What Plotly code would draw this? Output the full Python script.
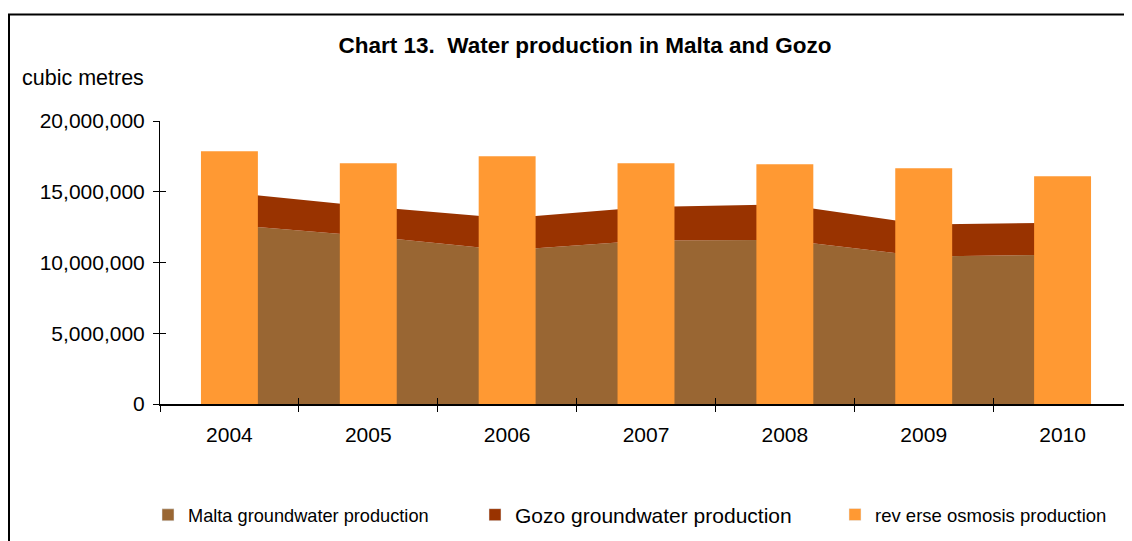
import plotly.graph_objects as go

years = ["2004", "2005", "2006", "2007", "2008", "2009", "2010"]
malta_gw = [12670000, 11850000, 10870000, 11560000, 11590000, 10430000, 10550000]
gozo_gw = [2270000, 2100000, 2250000, 2360000, 2510000, 2260000, 2260000]
reverse_osmosis = [17860000, 17020000, 17510000, 17020000, 16950000, 16660000, 16100000]

C_MALTA = "#996633"
C_GOZO = "#993300"
C_RO = "#FF9933"
FONT = "Liberation Sans, Arial, sans-serif"

fig = go.Figure()

# stacked areas (underneath)
fig.add_trace(go.Scatter(x=years, y=malta_gw, stackgroup="gw", mode="none",
                         fillcolor=C_MALTA, showlegend=False, xaxis="x", yaxis="y"))
fig.add_trace(go.Scatter(x=years, y=gozo_gw, stackgroup="gw", mode="none",
                         fillcolor=C_GOZO, showlegend=False, xaxis="x", yaxis="y"))

# bars on overlay axes so they sit above the areas
fig.add_trace(go.Bar(x=years, y=reverse_osmosis, width=0.41, marker=dict(color=C_RO, line=dict(width=0)),
                     showlegend=False, xaxis="x2", yaxis="y2"))

# legend entries
fig.add_trace(go.Bar(x=[None], y=[None], name="Malta groundwater production",
                     marker=dict(color=C_MALTA), legend="legend", xaxis="x2", yaxis="y2"))
fig.add_trace(go.Bar(x=[None], y=[None], name="Gozo groundwater production",
                     marker=dict(color=C_GOZO), legend="legend2", xaxis="x2", yaxis="y2"))
fig.add_trace(go.Bar(x=[None], y=[None], name="rev erse osmosis production",
                     marker=dict(color=C_RO), legend="legend3", xaxis="x2", yaxis="y2"))

OFF = 8  # page body margin
W, H = 1132 - OFF, 541 - OFF
L, T, B = 160 - OFF, 121 - OFF, 404 - OFF
PW, PH = W - L, B - T

def px_x(p):
    return (p - OFF - L) / PW

def px_y(p):
    return (B - (p - OFF)) / PH

xcommon = dict(type="category", categoryorder="array", categoryarray=years,
               range=[-0.5, 6.5], tickson="boundaries", showgrid=False, zeroline=False)
ycommon = dict(range=[0, 20000000], dtick=5000000, showgrid=False, zeroline=False)

fig.update_layout(
    width=W, height=H,
    margin=dict(l=L, r=0, t=T, b=H - B, pad=0),
    paper_bgcolor="white", plot_bgcolor="white",
    font=dict(family=FONT, color="black", size=21),
    barmode="overlay",
    title=dict(text="<b>Chart 13.&nbsp; Water production in Malta and Gozo</b>",
               font=dict(family=FONT, size=22.5, color="black"),
               x=(585 - OFF) / W, xref="container", xanchor="center",
               y=1 - (45 - OFF) / H, yref="container", yanchor="middle"),
    xaxis=dict(**xcommon, showline=True, linecolor="black", linewidth=1.5,
               ticks="outside", ticklen=6, tickcolor="black", tickwidth=1,
               tickfont=dict(size=21), ticklabelstandoff=11),
    yaxis=dict(**ycommon, showline=True, linecolor="black", linewidth=1,
               ticks="outside", ticklen=6, tickcolor="black", tickwidth=1,
               tickformat=",", tickfont=dict(size=21), ticklabelstandoff=4),
    xaxis2=dict(**xcommon, overlaying="x", showline=False, ticks="inside", ticklen=6,
                tickcolor="black", tickwidth=1, showticklabels=False),
    yaxis2=dict(**ycommon, overlaying="y", showline=False, ticks="inside", ticklen=6,
                tickcolor="black", tickwidth=1, showticklabels=False),
    legend=dict(x=px_x(148), y=px_y(515), xanchor="left", yanchor="middle",
                orientation="h", font=dict(size=18.2), bgcolor="rgba(0,0,0,0)"),
    legend2=dict(x=px_x(475), y=px_y(515), xanchor="left", yanchor="middle",
                 orientation="h", font=dict(size=21), bgcolor="rgba(0,0,0,0)"),
    legend3=dict(x=px_x(835), y=px_y(515), xanchor="left", yanchor="middle",
                 orientation="h", font=dict(size=18.5), bgcolor="rgba(0,0,0,0)"),
    annotations=[dict(text="cubic metres", xref="paper", yref="paper",
                      x=px_x(20), y=px_y(78), xanchor="left", yanchor="middle",
                      showarrow=False, font=dict(size=21.5))],
    shapes=[dict(type="rect", xref="paper", yref="paper",
                 x0=px_x(9), x1=px_x(1150), y0=px_y(570), y1=px_y(14.5),
                 line=dict(color="black", width=2), fillcolor="rgba(0,0,0,0)", layer="below")],
)

fig.write_html("out.html")
